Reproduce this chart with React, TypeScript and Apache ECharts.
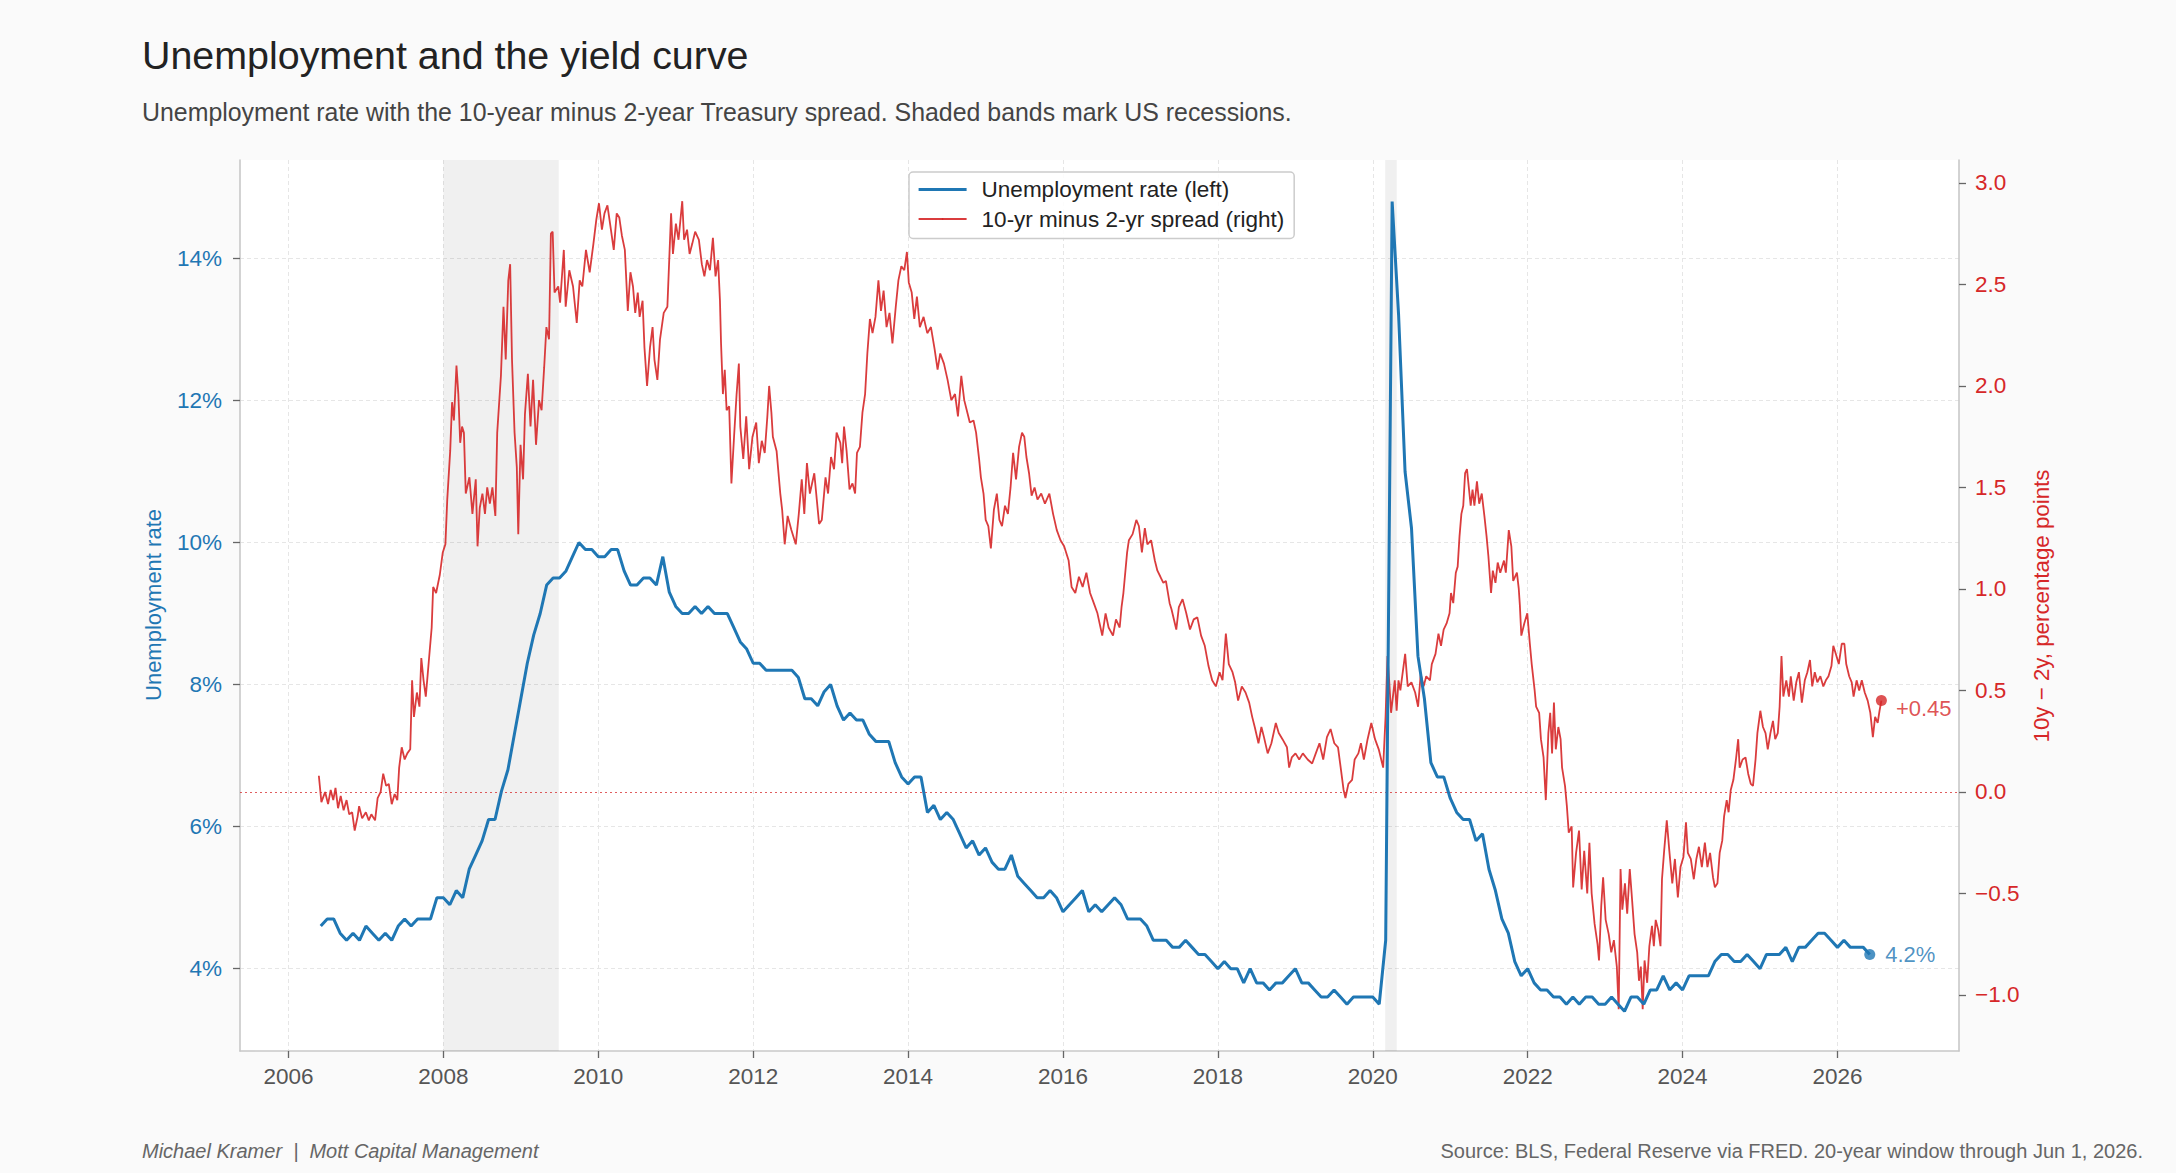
import React, { useEffect, useRef } from 'react';
import * as echarts from 'echarts';

const FONT = "'Liberation Sans', Arial, Helvetica, sans-serif";
const BLUE = '#1f77b4';
const RED = '#d62728';

const yearTicks = [2006, 2008, 2010, 2012, 2014, 2016, 2018, 2020, 2022, 2024, 2026];
const rateTicks = [4, 6, 8, 10, 12, 14];
const spreadTicks = [-1, -0.5, 0, 0.5, 1, 1.5, 2, 2.5, 3];

// recession bands, decimal years
const recessions: [number, number][] = [
  [2008.0, 2009.49],
  [2020.16, 2020.31],
];

// monthly unemployment rate, June 2006 .. June 2026
const unemploymentStart = { year: 2006, month: 6 };
const unemployment = [
  4.6, 4.7, 4.7, 4.5, 4.4, 4.5, 4.4,
  4.6, 4.5, 4.4, 4.5, 4.4, 4.6, 4.7, 4.6, 4.7, 4.7, 4.7, 5.0,
  5.0, 4.9, 5.1, 5.0, 5.4, 5.6, 5.8, 6.1, 6.1, 6.5, 6.8, 7.3,
  7.8, 8.3, 8.7, 9.0, 9.4, 9.5, 9.5, 9.6, 9.8, 10.0, 9.9, 9.9,
  9.8, 9.8, 9.9, 9.9, 9.6, 9.4, 9.4, 9.5, 9.5, 9.4, 9.8, 9.3,
  9.1, 9.0, 9.0, 9.1, 9.0, 9.1, 9.0, 9.0, 9.0, 8.8, 8.6, 8.5,
  8.3, 8.3, 8.2, 8.2, 8.2, 8.2, 8.2, 8.1, 7.8, 7.8, 7.7, 7.9,
  8.0, 7.7, 7.5, 7.6, 7.5, 7.5, 7.3, 7.2, 7.2, 7.2, 6.9, 6.7,
  6.6, 6.7, 6.7, 6.2, 6.3, 6.1, 6.2, 6.1, 5.9, 5.7, 5.8, 5.6,
  5.7, 5.5, 5.4, 5.4, 5.6, 5.3, 5.2, 5.1, 5.0, 5.0, 5.1, 5.0,
  4.8, 4.9, 5.0, 5.1, 4.8, 4.9, 4.8, 4.9, 5.0, 4.9, 4.7, 4.7,
  4.7, 4.6, 4.4, 4.4, 4.4, 4.3, 4.3, 4.4, 4.3, 4.2, 4.2, 4.1,
  4.0, 4.1, 4.0, 4.0, 3.8, 4.0, 3.8, 3.8, 3.7, 3.8, 3.8, 3.9,
  4.0, 3.8, 3.8, 3.7, 3.6, 3.6, 3.7, 3.6, 3.5, 3.6, 3.6, 3.6,
  3.6, 3.5, 4.4, 14.8, 13.2, 11.0, 10.2, 8.4, 7.8, 6.9, 6.7, 6.7,
  6.4, 6.2, 6.1, 6.1, 5.8, 5.9, 5.4, 5.1, 4.7, 4.5, 4.1, 3.9,
  4.0, 3.8, 3.7, 3.7, 3.6, 3.6, 3.5, 3.6, 3.5, 3.6, 3.6, 3.5,
  3.5, 3.6, 3.5, 3.4, 3.6, 3.6, 3.5, 3.7, 3.7, 3.9, 3.7, 3.8,
  3.7, 3.9, 3.9, 3.9, 3.9, 4.1, 4.2, 4.2, 4.1, 4.1, 4.2, 4.1,
  4.0, 4.2, 4.2, 4.2, 4.3, 4.1, 4.3, 4.3, 4.4, 4.5, 4.5, 4.4,
  4.3, 4.4, 4.3, 4.3, 4.3, 4.2,
];

// 10y minus 2y spread, [decimal year, percentage points]
const spread: [number, number][] = [
  [2006.392, 0.08], [2006.425, -0.05], [2006.473, 0.0], [2006.511, -0.06], [2006.545, 0.01], [2006.578, -0.04],
  [2006.607, 0.02], [2006.64, -0.08], [2006.674, -0.02], [2006.712, -0.09], [2006.75, -0.04], [2006.784, -0.11],
  [2006.822, -0.1], [2006.855, -0.19], [2006.893, -0.12], [2006.912, -0.07], [2006.951, -0.13],
  [2006.999, -0.1], [2007.037, -0.14], [2007.07, -0.11], [2007.118, -0.14], [2007.151, -0.03], [2007.19, 0.0],
  [2007.223, 0.09], [2007.261, 0.03], [2007.295, 0.04], [2007.333, -0.06], [2007.371, -0.01], [2007.405, -0.04],
  [2007.429, 0.12], [2007.462, 0.22], [2007.5, 0.16], [2007.534, 0.19], [2007.572, 0.21], [2007.596, 0.55],
  [2007.62, 0.37], [2007.658, 0.49], [2007.691, 0.42], [2007.715, 0.66], [2007.744, 0.55], [2007.773, 0.47],
  [2007.811, 0.64], [2007.849, 0.81], [2007.868, 1.01], [2007.906, 0.98], [2007.954, 1.07], [2007.992, 1.18],
  [2008.026, 1.22], [2008.05, 1.44], [2008.088, 1.68], [2008.112, 1.92], [2008.136, 1.83], [2008.169, 2.1],
  [2008.193, 1.96], [2008.217, 1.72], [2008.241, 1.8], [2008.265, 1.77], [2008.289, 1.47], [2008.336, 1.55],
  [2008.375, 1.37], [2008.418, 1.54], [2008.441, 1.21], [2008.47, 1.4], [2008.504, 1.47], [2008.537, 1.37],
  [2008.566, 1.5], [2008.6, 1.42], [2008.633, 1.5], [2008.671, 1.36], [2008.695, 1.77], [2008.743, 2.05],
  [2008.776, 2.39], [2008.805, 2.13], [2008.838, 2.52], [2008.862, 2.6], [2008.886, 2.13], [2008.919, 1.77],
  [2008.948, 1.6], [2008.967, 1.27], [2008.996, 1.71],
  [2009.029, 1.54], [2009.053, 1.86], [2009.091, 2.06], [2009.125, 1.8], [2009.158, 2.03], [2009.196, 1.71],
  [2009.235, 1.93], [2009.268, 1.88], [2009.301, 2.09], [2009.33, 2.29], [2009.364, 2.23], [2009.388, 2.75],
  [2009.411, 2.76], [2009.435, 2.46], [2009.483, 2.49], [2009.507, 2.41], [2009.555, 2.67], [2009.579, 2.39],
  [2009.626, 2.57], [2009.674, 2.49], [2009.722, 2.31], [2009.76, 2.52], [2009.794, 2.49], [2009.841, 2.67],
  [2009.889, 2.56], [2009.937, 2.7], [2009.975, 2.82],
  [2010.009, 2.9], [2010.047, 2.77], [2010.08, 2.85], [2010.118, 2.89], [2010.152, 2.8], [2010.2, 2.67],
  [2010.238, 2.85], [2010.271, 2.83], [2010.305, 2.74], [2010.343, 2.67], [2010.381, 2.37], [2010.415, 2.56],
  [2010.448, 2.49], [2010.477, 2.36], [2010.51, 2.46], [2010.534, 2.34], [2010.572, 2.42], [2010.596, 2.19],
  [2010.63, 2.0], [2010.668, 2.19], [2010.701, 2.29], [2010.725, 2.13], [2010.763, 2.03], [2010.797, 2.23],
  [2010.845, 2.36], [2010.892, 2.39], [2010.916, 2.62], [2010.94, 2.85], [2010.964, 2.65],
  [2011.002, 2.8], [2011.036, 2.72], [2011.084, 2.91], [2011.108, 2.72], [2011.146, 2.77], [2011.179, 2.65],
  [2011.213, 2.7], [2011.251, 2.76], [2011.299, 2.72], [2011.337, 2.6], [2011.37, 2.54], [2011.404, 2.62],
  [2011.442, 2.57], [2011.48, 2.73], [2011.514, 2.54], [2011.547, 2.62], [2011.571, 2.42], [2011.585, 2.21],
  [2011.609, 1.96], [2011.633, 2.08], [2011.657, 1.88], [2011.69, 1.9], [2011.719, 1.52], [2011.753, 1.75],
  [2011.786, 1.96], [2011.815, 2.11], [2011.834, 1.8], [2011.872, 1.64], [2011.91, 1.85], [2011.948, 1.59],
  [2011.991, 1.75],
  [2012.039, 1.82], [2012.073, 1.62], [2012.111, 1.73], [2012.149, 1.67], [2012.183, 1.85], [2012.206, 2.0],
  [2012.235, 1.87], [2012.254, 1.75], [2012.302, 1.68], [2012.35, 1.47], [2012.374, 1.39], [2012.407, 1.22],
  [2012.445, 1.36], [2012.493, 1.29], [2012.55, 1.22], [2012.589, 1.37], [2012.627, 1.54], [2012.66, 1.37],
  [2012.694, 1.62], [2012.732, 1.47], [2012.789, 1.57], [2012.851, 1.32], [2012.886, 1.34], [2012.934, 1.55],
  [2012.967, 1.47],
  [2013.005, 1.65], [2013.044, 1.59], [2013.077, 1.77], [2013.125, 1.72], [2013.149, 1.62], [2013.173, 1.8],
  [2013.206, 1.68], [2013.244, 1.49], [2013.282, 1.52], [2013.316, 1.47], [2013.34, 1.67], [2013.378, 1.7],
  [2013.411, 1.87], [2013.445, 1.96], [2013.474, 2.16], [2013.507, 2.33], [2013.541, 2.26], [2013.579, 2.34],
  [2013.617, 2.52], [2013.65, 2.37], [2013.684, 2.47], [2013.722, 2.29], [2013.76, 2.36], [2013.798, 2.21],
  [2013.841, 2.39], [2013.875, 2.52], [2013.913, 2.59], [2013.951, 2.57], [2013.985, 2.66],
  [2014.009, 2.51], [2014.047, 2.46], [2014.08, 2.33], [2014.114, 2.44], [2014.152, 2.29], [2014.2, 2.34],
  [2014.248, 2.26], [2014.295, 2.29], [2014.343, 2.18], [2014.381, 2.08], [2014.415, 2.16], [2014.463, 2.11],
  [2014.51, 2.03], [2014.558, 1.93], [2014.606, 1.96], [2014.644, 1.85], [2014.687, 2.05], [2014.725, 1.93],
  [2014.764, 1.87], [2014.797, 1.82], [2014.845, 1.83], [2014.878, 1.77], [2014.917, 1.64], [2014.94, 1.55],
  [2014.974, 1.47],
  [2015.002, 1.34], [2015.036, 1.31], [2015.069, 1.2], [2015.108, 1.39], [2015.146, 1.47], [2015.179, 1.34],
  [2015.213, 1.31], [2015.251, 1.41], [2015.289, 1.37], [2015.323, 1.5], [2015.356, 1.67], [2015.394, 1.54],
  [2015.433, 1.7], [2015.471, 1.77], [2015.5, 1.75], [2015.528, 1.65], [2015.562, 1.57], [2015.595, 1.46],
  [2015.633, 1.5], [2015.671, 1.44], [2015.719, 1.47], [2015.767, 1.42], [2015.824, 1.47], [2015.872, 1.37],
  [2015.92, 1.29], [2015.968, 1.24],
  [2016.015, 1.21], [2016.073, 1.14], [2016.111, 1.01], [2016.159, 0.98], [2016.206, 1.06], [2016.254, 1.01],
  [2016.302, 1.08], [2016.35, 0.98], [2016.398, 0.93], [2016.445, 0.88], [2016.507, 0.77], [2016.55, 0.88],
  [2016.589, 0.81], [2016.646, 0.77], [2016.684, 0.85], [2016.732, 0.81], [2016.756, 0.91], [2016.78, 0.98],
  [2016.828, 1.18], [2016.851, 1.24], [2016.899, 1.27], [2016.947, 1.34], [2016.98, 1.31],
  [2017.019, 1.18], [2017.057, 1.3], [2017.09, 1.22], [2017.138, 1.24], [2017.186, 1.14], [2017.219, 1.09],
  [2017.258, 1.06], [2017.296, 1.03], [2017.329, 1.04], [2017.377, 0.93], [2017.401, 0.9], [2017.463, 0.8],
  [2017.496, 0.91], [2017.544, 0.95], [2017.592, 0.88], [2017.64, 0.8], [2017.688, 0.85], [2017.735, 0.86],
  [2017.783, 0.77], [2017.831, 0.72], [2017.879, 0.62], [2017.926, 0.55], [2017.974, 0.52],
  [2018.022, 0.59], [2018.06, 0.55], [2018.103, 0.78], [2018.141, 0.63], [2018.189, 0.59], [2018.223, 0.54],
  [2018.261, 0.45], [2018.309, 0.52], [2018.357, 0.49], [2018.404, 0.44], [2018.443, 0.37], [2018.476, 0.32],
  [2018.524, 0.24], [2018.562, 0.32], [2018.595, 0.27], [2018.643, 0.19], [2018.691, 0.24], [2018.748, 0.34],
  [2018.786, 0.29], [2018.834, 0.26], [2018.892, 0.22], [2018.92, 0.12], [2018.954, 0.17],
  [2019.002, 0.19], [2019.05, 0.16], [2019.097, 0.19], [2019.159, 0.16], [2019.217, 0.14], [2019.264, 0.19],
  [2019.312, 0.24], [2019.36, 0.16], [2019.408, 0.27], [2019.455, 0.31], [2019.503, 0.24], [2019.551, 0.22],
  [2019.589, 0.11], [2019.623, 0.01], [2019.647, -0.03], [2019.685, 0.04], [2019.733, 0.06], [2019.766, 0.16],
  [2019.814, 0.19], [2019.847, 0.24], [2019.885, 0.16], [2019.933, 0.26], [2019.981, 0.34],
  [2020.029, 0.26], [2020.077, 0.21], [2020.134, 0.12], [2020.165, 0.37], [2020.19, 0.67], [2020.213, 0.54],
  [2020.236, 0.39], [2020.284, 0.55], [2020.308, 0.4], [2020.332, 0.55], [2020.356, 0.5], [2020.418, 0.68],
  [2020.451, 0.52], [2020.499, 0.54], [2020.547, 0.49], [2020.585, 0.42], [2020.619, 0.58], [2020.657, 0.52],
  [2020.69, 0.57], [2020.738, 0.55], [2020.762, 0.63], [2020.81, 0.68], [2020.848, 0.78], [2020.881, 0.72],
  [2020.915, 0.8], [2020.953, 0.83], [2020.991, 0.88],
  [2021.01, 0.98], [2021.039, 0.93], [2021.072, 1.08], [2021.096, 1.11], [2021.12, 1.26], [2021.144, 1.37],
  [2021.168, 1.41], [2021.192, 1.57], [2021.216, 1.59], [2021.24, 1.5], [2021.264, 1.41], [2021.288, 1.49],
  [2021.312, 1.41], [2021.345, 1.53], [2021.374, 1.42], [2021.407, 1.47], [2021.441, 1.36], [2021.469, 1.26],
  [2021.493, 1.16], [2021.527, 0.98], [2021.55, 1.09], [2021.584, 1.03], [2021.613, 1.13], [2021.646, 1.08],
  [2021.694, 1.14], [2021.718, 1.08], [2021.756, 1.29], [2021.789, 1.21], [2021.813, 1.04], [2021.861, 1.08],
  [2021.885, 1.0], [2021.899, 0.92], [2021.918, 0.77], [2021.956, 0.83], [2021.995, 0.88],
  [2022.028, 0.73], [2022.052, 0.63], [2022.09, 0.5], [2022.109, 0.42], [2022.148, 0.39], [2022.171, 0.26],
  [2022.205, 0.17], [2022.234, -0.04], [2022.267, 0.29], [2022.291, 0.39], [2022.315, 0.19], [2022.339, 0.44],
  [2022.363, 0.21], [2022.396, 0.32], [2022.425, 0.26], [2022.444, 0.12], [2022.482, 0.03], [2022.506, -0.07],
  [2022.53, -0.2], [2022.568, -0.17], [2022.587, -0.47], [2022.625, -0.3], [2022.663, -0.19], [2022.697, -0.48],
  [2022.73, -0.29], [2022.769, -0.5], [2022.797, -0.25], [2022.826, -0.5], [2022.864, -0.65], [2022.902, -0.75],
  [2022.921, -0.83], [2022.95, -0.56], [2022.974, -0.42],
  [2023.007, -0.63], [2023.046, -0.7], [2023.079, -0.79], [2023.113, -0.73], [2023.151, -0.86], [2023.175, -1.07],
  [2023.199, -0.38], [2023.222, -0.58], [2023.256, -0.45], [2023.285, -0.6], [2023.318, -0.38], [2023.342, -0.5],
  [2023.38, -0.7], [2023.414, -0.79], [2023.437, -0.93], [2023.461, -0.86], [2023.485, -1.07], [2023.509, -0.83],
  [2023.543, -0.94], [2023.571, -0.76], [2023.605, -0.66], [2023.629, -0.76], [2023.653, -0.63], [2023.686, -0.68],
  [2023.715, -0.76], [2023.734, -0.43], [2023.762, -0.29], [2023.796, -0.14], [2023.829, -0.29], [2023.867, -0.45],
  [2023.901, -0.33], [2023.939, -0.52], [2023.973, -0.37],
  [2024.011, -0.32], [2024.044, -0.15], [2024.068, -0.3], [2024.106, -0.33], [2024.145, -0.43], [2024.178, -0.33],
  [2024.211, -0.27], [2024.249, -0.37], [2024.288, -0.25], [2024.321, -0.37], [2024.355, -0.3], [2024.393, -0.42],
  [2024.417, -0.47], [2024.45, -0.45], [2024.479, -0.3], [2024.512, -0.24], [2024.536, -0.12], [2024.57, -0.04],
  [2024.594, -0.1], [2024.622, 0.01], [2024.656, 0.06], [2024.689, 0.16], [2024.718, 0.26], [2024.737, 0.12],
  [2024.775, 0.16], [2024.813, 0.17], [2024.847, 0.09], [2024.88, 0.04], [2024.909, 0.03], [2024.942, 0.16],
  [2024.966, 0.29],
  [2025.004, 0.4], [2025.038, 0.32], [2025.071, 0.29], [2025.1, 0.21], [2025.134, 0.29], [2025.167, 0.35],
  [2025.196, 0.26], [2025.229, 0.29], [2025.253, 0.42], [2025.277, 0.67], [2025.301, 0.47], [2025.339, 0.55],
  [2025.373, 0.47], [2025.397, 0.57], [2025.435, 0.45], [2025.468, 0.54], [2025.502, 0.59], [2025.54, 0.44],
  [2025.578, 0.55], [2025.611, 0.59], [2025.645, 0.65], [2025.674, 0.52], [2025.707, 0.59], [2025.74, 0.54],
  [2025.779, 0.57], [2025.817, 0.52], [2025.85, 0.55], [2025.884, 0.57], [2025.922, 0.62], [2025.946, 0.72],
  [2025.979, 0.68],
  [2026.017, 0.63], [2026.055, 0.73], [2026.089, 0.73], [2026.113, 0.63], [2026.151, 0.57], [2026.184, 0.54],
  [2026.208, 0.47], [2026.247, 0.55], [2026.28, 0.5], [2026.314, 0.55], [2026.352, 0.49], [2026.39, 0.45],
  [2026.424, 0.39], [2026.457, 0.27], [2026.486, 0.37], [2026.519, 0.34], [2026.543, 0.4], [2026.567, 0.45],
];

const unemploymentPoints: [number, number][] = unemployment.map((v, i) => [
  unemploymentStart.year + (unemploymentStart.month - 1 + i) / 12,
  v,
]);

const lastRate = unemploymentPoints[unemploymentPoints.length - 1];
const lastSpread = spread[spread.length - 1];

const fmtSpread = (v: number) => (v < 0 ? '\u2212' : '') + Math.abs(v).toFixed(1);

const axisLineStyle = { color: '#c8c8c8', width: 1.6 };
const tickLineStyle = { color: '#666666', width: 1.3 };
const gridLineStyle = { color: '#e6e6e6', width: 1, type: [4, 3] as number[] };

const RATE_NAME = 'Unemployment rate (left)';
const SPREAD_NAME = '10-yr minus 2-yr spread (right)';

const App: React.FC = () => {
  const chartRef = useRef<HTMLDivElement | null>(null);

  useEffect(() => {
    document.body.style.margin = '0';
    if (!chartRef.current) return;
    const chart = echarts.init(chartRef.current, null, { renderer: 'svg' });

    chart.setOption({
      animation: false,
      backgroundColor: '#fafafa',
      textStyle: { fontFamily: FONT },
      grid: {
        left: 240,
        right: 217,
        top: 160,
        bottom: 122,
        show: true,
        backgroundColor: '#ffffff',
        borderWidth: 0,
      },
      legend: {
        data: [
          { name: RATE_NAME, lineStyle: { width: 3.2, color: BLUE } },
          { name: SPREAD_NAME, lineStyle: { width: 1.8, color: RED } },
        ],
        orient: 'vertical',
        left: 909,
        top: 172,
        padding: [6, 10, 8, 8],
        itemGap: 6.5,
        itemWidth: 48,
        itemHeight: 2,
        backgroundColor: 'rgba(255,255,255,0.85)',
        borderColor: '#cccccc',
        borderWidth: 1.5,
        borderRadius: 4,
        selectedMode: false,
        textStyle: { fontSize: 22.5, color: '#222222', fontFamily: FONT, padding: [0, 0, 0, 10] },
      },
      xAxis: {
        type: 'value',
        min: 2005.374,
        max: 2027.569,
        axisLine: { show: true, onZero: false, lineStyle: axisLineStyle },
        axisTick: { show: true, customValues: yearTicks, length: 7, lineStyle: tickLineStyle },
        axisLabel: {
          customValues: yearTicks,
          formatter: (v: number) => String(v),
          color: '#555555',
          fontSize: 22.5,
          margin: 14,
        },
        splitLine: { show: true, lineStyle: gridLineStyle },
      },
      yAxis: [
        {
          type: 'value',
          position: 'left',
          min: 2.841,
          max: 15.385,
          axisLine: { show: true, onZero: false, lineStyle: axisLineStyle },
          axisTick: { show: true, customValues: rateTicks, length: 7, lineStyle: tickLineStyle },
          axisLabel: {
            customValues: rateTicks,
            formatter: (v: number) => v + '%',
            color: BLUE,
            fontSize: 22.5,
            margin: 18,
          },
          splitLine: { show: true, lineStyle: gridLineStyle },
        },
        {
          type: 'value',
          position: 'right',
          min: -1.276,
          max: 3.113,
          axisLine: { show: true, onZero: false, lineStyle: axisLineStyle },
          axisTick: { show: true, customValues: spreadTicks, length: 7, lineStyle: tickLineStyle },
          axisLabel: {
            customValues: spreadTicks,
            formatter: fmtSpread,
            color: RED,
            fontSize: 22.5,
            margin: 16,
          },
          splitLine: { show: false },
        },
      ],
      graphic: [
        {
          type: 'text',
          x: 142,
          y: 55,
          style: {
            text: 'Unemployment and the yield curve',
            fill: '#222222',
            fontSize: 39.4,
            fontFamily: FONT,
            textVerticalAlign: 'middle',
          },
        },
        {
          type: 'text',
          x: 142,
          y: 112,
          style: {
            text: 'Unemployment rate with the 10-year minus 2-year Treasury spread. Shaded bands mark US recessions.',
            fill: '#444444',
            fontSize: 24.9,
            fontFamily: FONT,
            textVerticalAlign: 'middle',
          },
        },
        {
          type: 'text',
          x: 153,
          y: 605,
          rotation: Math.PI / 2,
          style: {
            text: 'Unemployment rate',
            fill: BLUE,
            fontSize: 22,
            fontFamily: FONT,
            textAlign: 'center',
            textVerticalAlign: 'middle',
          },
        },
        {
          type: 'text',
          x: 2041,
          y: 606,
          rotation: Math.PI / 2,
          style: {
            text: '10y \u2212 2y, percentage points',
            fill: RED,
            fontSize: 22.3,
            fontFamily: FONT,
            textAlign: 'center',
            textVerticalAlign: 'middle',
          },
        },
        {
          type: 'text',
          x: 142,
          y: 1151,
          style: {
            text: 'Michael Kramer  |  Mott Capital Management',
            fill: '#666666',
            fontSize: 20,
            fontStyle: 'italic',
            fontFamily: FONT,
            textVerticalAlign: 'middle',
          },
        },
        {
          type: 'text',
          x: 2143,
          y: 1151,
          style: {
            text: 'Source: BLS, Federal Reserve via FRED. 20-year window through Jun 1, 2026.',
            fill: '#666666',
            fontSize: 20,
            fontFamily: FONT,
            textAlign: 'right',
            textVerticalAlign: 'middle',
          },
        },
      ],
      series: [
        {
          name: 'recessions',
          type: 'line',
          data: [],
          silent: true,
          markArea: {
            silent: true,
            z: 1,
            itemStyle: { color: 'rgba(0,0,0,0.06)' },
            data: recessions.map(([a, b]) => [{ xAxis: a }, { xAxis: b }]),
          },
        },
        {
          name: SPREAD_NAME,
          type: 'line',
          yAxisIndex: 1,
          data: spread,
          symbol: 'none',
          z: 2,
          color: RED,
          lineStyle: { color: RED, width: 1.8, opacity: 0.9 },
          markLine: {
            silent: true,
            z: 1,
            symbol: 'none',
            label: { show: false },
            lineStyle: { color: RED, width: 1.2, type: [2, 3], opacity: 0.75 },
            data: [{ yAxis: 0 }],
          },
        },
        {
          name: RATE_NAME,
          type: 'line',
          yAxisIndex: 0,
          data: unemploymentPoints,
          symbol: 'none',
          z: 3,
          color: BLUE,
          lineStyle: { color: BLUE, width: 3 },
        },
        {
          name: 'last rate',
          type: 'scatter',
          yAxisIndex: 0,
          data: [lastRate],
          symbolSize: 11,
          z: 4,
          itemStyle: { color: BLUE },
          label: {
            show: true,
            position: 'right',
            distance: 10,
            formatter: lastRate[1].toFixed(1) + '%',
            color: BLUE,
            fontSize: 22,
            fontFamily: FONT,
          },
        },
        {
          name: 'last spread',
          type: 'scatter',
          yAxisIndex: 1,
          data: [lastSpread],
          symbolSize: 11,
          z: 4,
          itemStyle: { color: RED },
          label: {
            show: true,
            position: 'right',
            distance: 9,
            offset: [0, 8],
            formatter: (lastSpread[1] >= 0 ? '+' : '\u2212') + Math.abs(lastSpread[1]).toFixed(2),
            color: RED,
            fontSize: 22,
            fontFamily: FONT,
          },
        },
      ],
    });

    return () => {
      chart.dispose();
    };
  }, []);

  return <div ref={chartRef} style={{ width: '2176px', height: '1173px', background: '#fafafa' }} />;
};

export default App;
